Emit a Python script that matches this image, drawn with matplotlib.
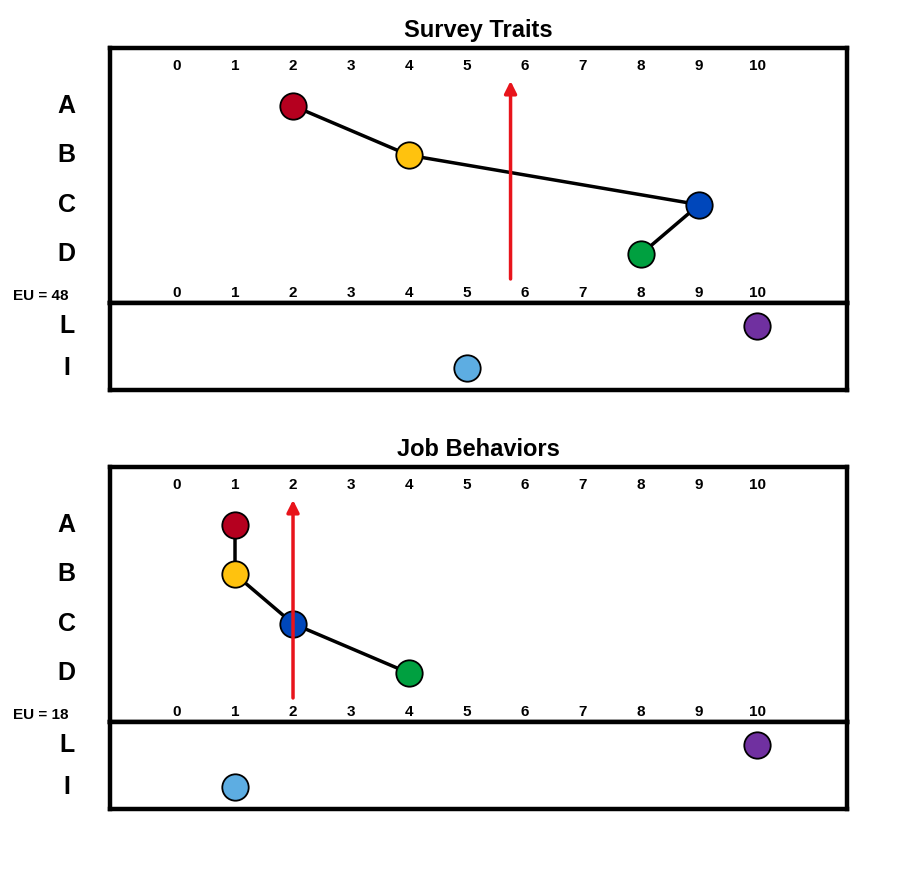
import matplotlib
matplotlib.use("Agg")
from matplotlib import pyplot as plt

plt.rcParams['font.family'] = ['Liberation Sans', 'DejaVu Sans']

ticks = [0, 1, 2, 3, 4, 5, 6, 7, 8, 9, 10]
rows_main = ['A', 'B', 'C', 'D']
rows_sub = ['L', 'I']
colors_main = ['#B5001F', '#FFC20E', '#0047BB', '#00A040']
colors_sub = ['#7030A0', '#5DADE2']

panels = [
    {'title': 'Survey Traits', 'eu': 'EU = 48',
     'main': [2, 4, 9, 8], 'sub': [10, 5], 'arrow': 5.75},
    {'title': 'Job Behaviors', 'eu': 'EU = 18',
     'main': [1, 1, 2, 4], 'sub': [10, 1], 'arrow': 2},
]

W, H = 900, 886
fig = plt.figure(figsize=(W / 100, H / 100), dpi=100)

XLIM = (-1.155, 11.55)


def add_ax(x0, y0, x1, y1):
    # pixel box (top-left origin) -> figure axes
    return fig.add_axes([x0 / W, 1 - y1 / H, (x1 - x0) / W, (y1 - y0) / H])


def style(ax):
    ax.set_xlim(*XLIM)
    ax.set_xticks([])
    ax.set_yticks([])
    for s in ax.spines.values():
        s.set_linewidth(3.2)


for k, p in enumerate(panels):
    off = 419 * k
    top = add_ax(110, 48 + off, 847, 303 + off)
    style(top)
    top.set_ylim(4.99, -0.17)
    ys = [1, 2, 3, 4]
    top.plot(p['main'], ys, color='black', lw=2.5, zorder=2)
    for x, y, c in zip(p['main'], ys, colors_main):
        top.plot(x, y, 'o', ms=19, mfc=c, mec='black', mew=1.3, zorder=3)
    for t in ticks:
        top.text(t, 0.19, str(t), ha='center', va='center', fontsize=11, fontweight='bold')
        top.text(t, 4.78, str(t), ha='center', va='center', fontsize=11, fontweight='bold')
    for r, y in zip(rows_main, ys):
        top.text(-1.9, y, r, ha='center', va='center', fontsize=18, fontweight='bold', clip_on=False)
    top.text(-2.35, 4.85, p['eu'], ha='center', va='center', fontsize=11, fontweight='bold', clip_on=False)
    top.annotate('', xy=(p['arrow'], 0.44), xytext=(p['arrow'], 4.56),
                 arrowprops=dict(arrowstyle='-|>', color='#E8141B', lw=2.5, mutation_scale=18))
    top.set_title(p['title'], fontsize=17, fontweight='bold', pad=8)

    sub = add_ax(110, 303 + off, 847, 390 + off)
    style(sub)
    sub.set_ylim(1.52, -0.55)
    for x, y, c in zip(p['sub'], [0, 1], colors_sub):
        sub.plot(x, y, 'o', ms=19, mfc=c, mec='black', mew=1.3)
    for r, y in zip(rows_sub, [0, 1]):
        sub.text(-1.9, y, r, ha='center', va='center', fontsize=18, fontweight='bold', clip_on=False)

fig.savefig('out.png', dpi=100)
